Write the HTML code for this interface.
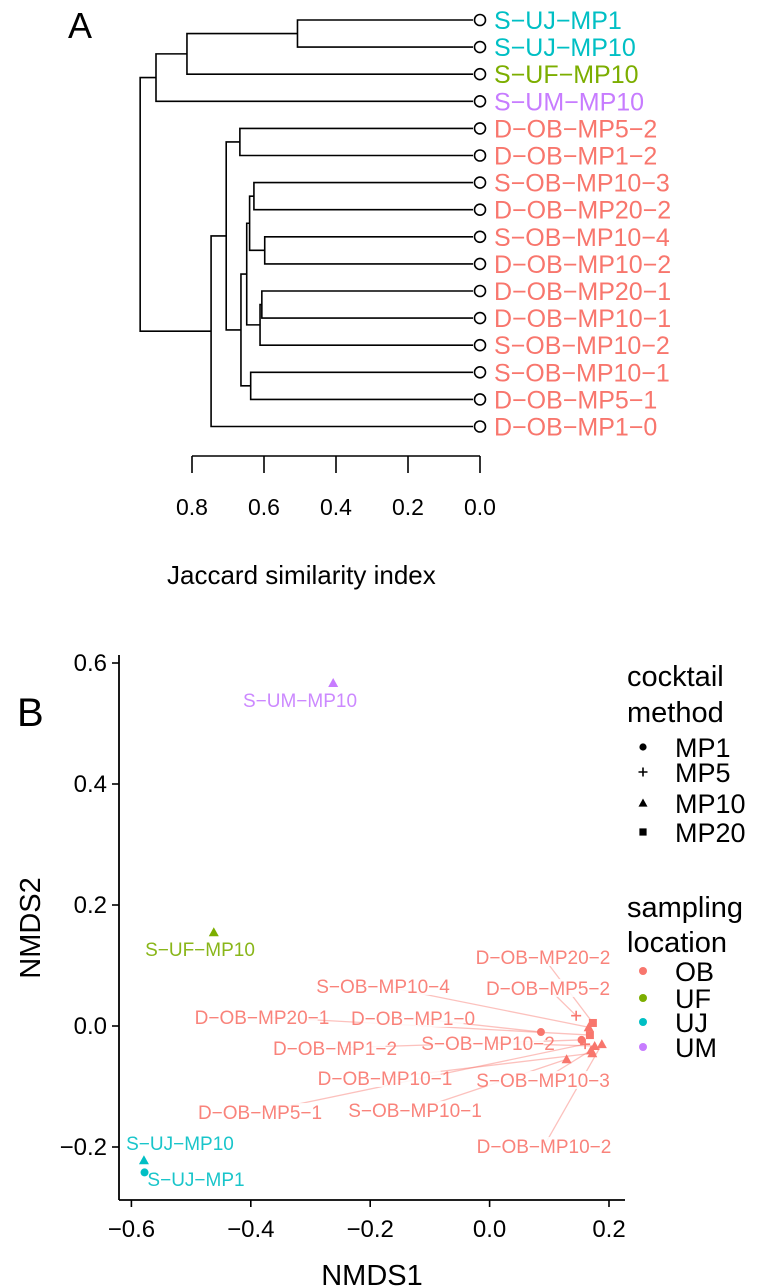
<!DOCTYPE html>
<html><head><meta charset="utf-8"><style>
html,body{margin:0;padding:0;background:#fff;}
svg{display:block;font-family:"Liberation Sans",sans-serif;}
</style></head><body>
<svg id="fig" width="764" height="1287" viewBox="0 0 764 1287" xmlns="http://www.w3.org/2000/svg">
<text x="68" y="38" font-size="36">A</text>
<g id="dendro"></g>
<g id="dendroAxis"></g>
<text x="167" y="584" font-size="26">Jaccard similarity index</text>
<text x="17" y="726" font-size="40">B</text>
<g id="scatter"></g>
<g id="legend"></g>
</svg>
<script>
// ---- Dendrogram data ----
const leafNames = ["S-UJ-MP1","S-UJ-MP10","S-UF-MP10","S-UM-MP10","D-OB-MP5-2","D-OB-MP1-2","S-OB-MP10-3","D-OB-MP20-2","S-OB-MP10-4","D-OB-MP10-2","D-OB-MP20-1","D-OB-MP10-1","S-OB-MP10-2","S-OB-MP10-1","D-OB-MP5-1","D-OB-MP1-0"];
const leafGroups = ["UJ","UJ","UF","UM","OB","OB","OB","OB","OB","OB","OB","OB","OB","OB","OB","OB"];
// merges: negative = leaf (1-based), positive = earlier merge (1-based)
const mergeLeft  = [-1,-11, 2, -9, -7, 5, 6,-14, 7, -5,10,11, 1,13,14];
const mergeRight = [-2,-12,-13,-10, -8, 4, 3,-15, 8, -6, 9,-16,-3,-4,12];
const mergeHeight= [0.507,0.606,0.611,0.598,0.628,0.640,0.648,0.637,0.664,0.667,0.705,0.747,0.814,0.900,0.944];
const dendroTicks = [0.8,0.6,0.4,0.2,0.0];

// ---- NMDS data ----
const sampleNames = ["S-UM-MP10","S-UF-MP10","S-UJ-MP10","S-UJ-MP1","D-OB-MP5-2","D-OB-MP1-0","S-OB-MP10-1","D-OB-MP20-2","D-OB-MP20-1","D-OB-MP1-2","S-OB-MP10-3","S-OB-MP10-4","S-OB-MP10-2","D-OB-MP10-1","D-OB-MP10-2","D-OB-MP5-1"];
const sampleGroup = ["UM","UF","UJ","UJ","OB","OB","OB","OB","OB","OB","OB","OB","OB","OB","OB","OB"];
const sampleMethod = ["MP10","MP10","MP10","MP1","MP5","MP1","MP10","MP20","MP20","MP1","MP10","MP10","MP10","MP10","MP10","MP5"];
const nmds1 = [-0.262,-0.462,-0.579,-0.578,0.145,0.086,0.129,0.173,0.168,0.154,0.170,0.166,0.176,0.172,0.188,0.160];
const nmds2 = [0.567,0.155,-0.222,-0.242,0.017,-0.010,-0.055,0.005,-0.015,-0.023,-0.040,-0.002,-0.033,-0.045,-0.030,-0.030];
const xTicks = [-0.6,-0.4,-0.2,0.0,0.2];
const yTicks = [-0.2,0.0,0.2,0.4,0.6];
// label layout (pixel centres of repelled text labels; layout, not data)
const labelLayout = [[300,700],[200,949],[180,1143],[196,1179],[548,988],[413,1018],[415,1110],[543,957],[262,1017],[335,1048],[543,1080],[383,986],[488,1043],[385,1078],[544,1146],[260,1112]];

const colors = {OB:"#F8766D",UF:"#7CAE00",UJ:"#00BFC4",UM:"#C77CFF"};
const NS="http://www.w3.org/2000/svg";
function mk(tag, attrs, parent){const e=document.createElementNS(NS,tag);for(const k in attrs)e.setAttribute(k,attrs[k]);parent.appendChild(e);return e;}

// ---- Draw dendrogram ----
const dx = h => 480 - h*360;
const leafY = i => 20 + i*27.1;
const dG = document.getElementById('dendro');
const nodePos = [];
function pos(ref){ if(ref<0){return {x:dx(0)-7,y:leafY(-ref-1)};} return nodePos[ref-1]; }
for(let m=0;m<mergeHeight.length;m++){
  const a=pos(mergeLeft[m]), b=pos(mergeRight[m]), x=dx(mergeHeight[m]);
  const p=mk('path',{d:`M${a.x},${a.y}H${x}V${b.y}H${b.x}`,fill:"none",stroke:"#000","stroke-width":1.6},dG);
  
  
  nodePos.push({x:x,y:(a.y+b.y)/2});
}
for(let i=0;i<leafNames.length;i++){
  const c=mk('circle',{cx:480,cy:leafY(i),r:5.5,fill:"none",stroke:"#000","stroke-width":1.6},dG);
  
  
  const t=mk('text',{x:494,y:leafY(i)+9,"font-size":25,fill:colors[leafGroups[i]]},dG);
  
  
  t.textContent=leafNames[i].replace(/-/g,'\u2212');
}
const aG=document.getElementById('dendroAxis');
mk('line',{x1:dx(0.8),x2:dx(0),y1:456,y2:456,stroke:"#000","stroke-width":1.6},aG);
for(const t of dendroTicks){
  mk('line',{x1:dx(t),x2:dx(t),y1:456,y2:473,stroke:"#000","stroke-width":1.6},aG);
  const tx=mk('text',{x:dx(t),y:515,"font-size":23,"text-anchor":"middle"},aG);
  
  
  tx.textContent=t.toFixed(1);
}

// ---- Draw NMDS ----
const sx = v => 489.6 + v*597;
const sy = v => 1026 - v*605;
const sG=document.getElementById('scatter');
// axes
mk('line',{x1:119,x2:119,y1:655,y2:1200,stroke:"#000","stroke-width":1.8},sG);
mk('line',{x1:119,x2:625,y1:1200,y2:1200,stroke:"#000","stroke-width":1.8},sG);
for(const t of xTicks){
  mk('line',{x1:sx(t),x2:sx(t),y1:1200,y2:1207,stroke:"#000","stroke-width":1.6},sG);
  const tx=mk('text',{x:sx(t),y:1237,"font-size":24,"text-anchor":"middle"},sG);
  
  
  tx.textContent=t.toFixed(1).replace('-','\u2212');
}
for(const t of yTicks){
  mk('line',{x1:112,x2:119,y1:sy(t),y2:sy(t),stroke:"#000","stroke-width":1.6},sG);
  const tx=mk('text',{x:107,y:sy(t)+8,"font-size":24,"text-anchor":"end"},sG);
  
  
  tx.textContent=t.toFixed(1).replace('-','\u2212');
}
const xt=mk('text',{x:372,y:1285,"font-size":29,"text-anchor":"middle"},sG);


xt.textContent='NMDS1';
const yt=mk('text',{x:40,y:928,"font-size":29,"text-anchor":"middle",transform:"rotate(-90 40 928)"},sG);


yt.textContent='NMDS2';

function symbol(method,x,y,col,parent,sc){
  sc=sc||1;
  if(method==="MP1") return mk('circle',{cx:x,cy:y,r:4*sc,fill:col},parent);
  if(method==="MP5") return mk('path',{d:`M${x-5*sc},${y}H${x+5*sc}M${x},${y-5*sc}V${y+5*sc}`,stroke:col,"stroke-width":1.6},parent);
  if(method==="MP10") return mk('path',{d:`M${x},${y-5*sc}L${x+5*sc},${y+4*sc}L${x-5*sc},${y+4*sc}Z`,fill:col},parent);
  return mk('rect',{x:x-4*sc,y:y-4*sc,width:8*sc,height:8*sc,fill:col},parent);
}
// segments
for(let i=0;i<sampleNames.length;i++){
  if(sampleGroup[i]!=="OB") continue;
  const L=labelLayout[i];
  const s=mk('line',{x1:L[0],y1:L[1],x2:sx(nmds1[i]),y2:sy(nmds2[i]),stroke:colors.OB,"stroke-opacity":0.45,"stroke-width":1.3},sG);
  
  
}
// labels
for(let i=0;i<sampleNames.length;i++){
  const L=labelLayout[i];
  const w=sampleNames[i].length*10.3+6;
  mk('rect',{x:L[0]-w/2+4,y:L[1]-9,width:w-8,height:18,fill:"#fff","fill-opacity":0.85},sG);
}
for(let i=0;i<sampleNames.length;i++){
  const L=labelLayout[i];
  const t=mk('text',{x:L[0],y:L[1]+7,"font-size":19,"text-anchor":"middle",fill:colors[sampleGroup[i]],"fill-opacity":0.9},sG);
  
  
  t.textContent=sampleNames[i].replace(/-/g,'\u2212');
}
// points
for(let i=0;i<sampleNames.length;i++){
  const p=symbol(sampleMethod[i],sx(nmds1[i]),sy(nmds2[i]),colors[sampleGroup[i]],sG);
  
  
}

// ---- Legend ----
const lg=document.getElementById('legend');
function lt(txt,x,y,size,name){const t=mk('text',{x:x,y:y,"font-size":size},lg);t.textContent=txt;return t;}
lt('cocktail',627,686,29,'legend-title-cocktail');
lt('method',627,722,29,'legend-title-method');
const methods=["MP1","MP5","MP10","MP20"], my=[747,772,803,832];
methods.forEach((m,k)=>{const s=symbol(m,643,my[k],"#000",lg,0.9);lt(m,675,my[k]+10,27,'legend-entry');});
lt('sampling',627,917,29,'legend-title-sampling');
lt('location',627,952,29,'legend-title-location');
const locs=["OB","UF","UJ","UM"], ly=[971,998,1022,1047];
locs.forEach((l,k)=>{const c=mk('circle',{cx:643,cy:ly[k],r:4,fill:colors[l]},lg);lt(l,675,ly[k]+10,27,'legend-entry');});
</script>
</body></html>
